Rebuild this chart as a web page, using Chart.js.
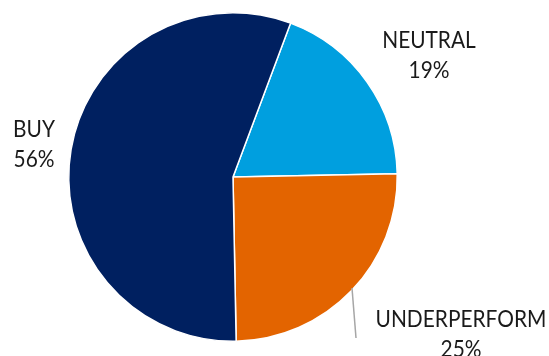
<!DOCTYPE html>
<html>
<head>
<meta charset="utf-8">
<script src="https://cdn.jsdelivr.net/npm/chart.js@4/dist/chart.umd.min.js"></script>
<style>
  html, body { margin: 0; padding: 0; background: #ffffff; }
  #wrap { width: 549px; height: 356px; position: relative; }
</style>
</head>
<body>
<div id="wrap"><canvas id="pie"></canvas></div>
<script>
// Recommendation split
const categories = ['NEUTRAL', 'UNDERPERFORM', 'BUY'];
const shares = [19, 25, 56];
const sliceColors = ['#009FDF', '#E36400', '#002060'];

// Label placement: [centre x, first baseline y]
const labelSpots = [[429, 48], [461, 327], [34, 137]];

const labelPlugin = {
  id: 'sliceLabels',
  afterDraw(chart) {
    const ctx = chart.ctx;
    ctx.save();
    // leader line to the UNDERPERFORM slice
    ctx.strokeStyle = '#A6A6A6';
    ctx.lineWidth = 1.5;
    ctx.beginPath();
    ctx.moveTo(352, 288);
    ctx.lineTo(356, 338);
    ctx.stroke();

    ctx.fillStyle = '#1a1a1a';
    ctx.textAlign = 'center';
    ctx.textBaseline = 'alphabetic';
    ctx.font = '400 24px Lato';
    categories.forEach((name, i) => {
      const [x, y] = labelSpots[i];
      const lines = [name, shares[i] + '%'];
      lines.forEach((t, k) => {
        ctx.save();
        ctx.translate(x, y + k * 30);
        ctx.scale(0.87, 1);
        ctx.fillText(t, 0, 0);
        ctx.restore();
      });
    });
    ctx.restore();
  }
};

new Chart(document.getElementById('pie'), {
  type: 'pie',
  data: {
    labels: categories,
    datasets: [{
      data: shares,
      backgroundColor: sliceColors,
      borderColor: '#ffffff',
      borderWidth: 1.5
    }]
  },
  options: {
    responsive: true,
    maintainAspectRatio: false,
    animation: false,
    rotation: 20.5,
    layout: { padding: { left: 68, right: 151, top: 12, bottom: 14 } },
    plugins: { legend: { display: false }, tooltip: { enabled: false } }
  },
  plugins: [labelPlugin]
});
</script>
</body>
</html>
